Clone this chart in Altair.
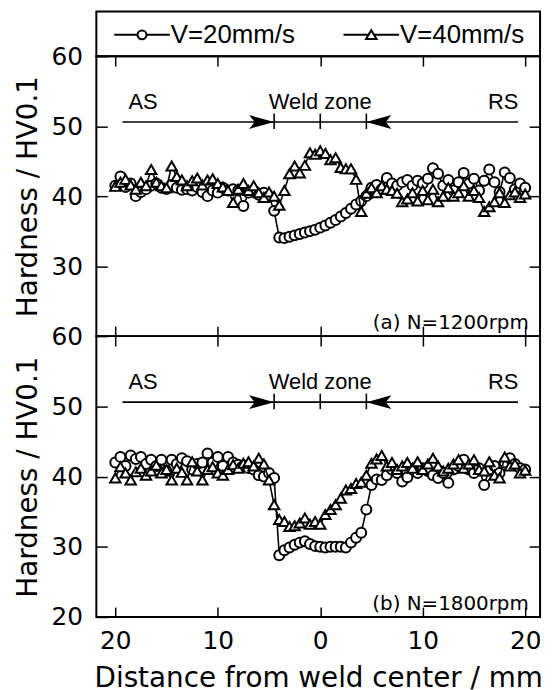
import altair as alt
import pandas as pd

# ---------------- data ----------------
distance = [-20.0, -19.5, -19.0, -18.5, -18.0, -17.5, -17.0, -16.5, -16.0, -15.5,
            -15.0, -14.5, -14.0, -13.5, -13.0, -12.5, -12.0, -11.5, -11.0, -10.5,
            -10.0, -9.5, -9.0, -8.5, -8.0, -7.5, -7.0, -6.5, -6.0, -5.5,
            -5.0, -4.5, -4.0, -3.5, -3.0, -2.5, -2.0, -1.5, -1.0, -0.5,
            0.0, 0.5, 1.0, 1.5, 2.0, 2.5, 3.0, 3.5, 4.0, 4.5,
            5.0, 5.5, 6.0, 6.5, 7.0, 7.5, 8.0, 8.5, 9.0, 9.5,
            10.0, 10.5, 11.0, 11.5, 12.0, 12.5, 13.0, 13.5, 14.0, 14.5,
            15.0, 15.5, 16.0, 16.5, 17.0, 17.5, 18.0, 18.5, 19.0, 19.5, 20.0]

# (a) N=1200rpm
a_v20 = [41.5, 42.8, 41.3, 41.8, 40.0, 40.6, 41.0, 41.5, 41.8, 41.2,
         41.0, 41.6, 41.2, 40.9, 41.0, 40.8, 41.3, 40.6, 40.0, 40.8,
         40.5, 41.2, 40.8, 41.0, 40.8, 38.6, 40.5, 40.8, 40.2, 40.5,
         40.0, 37.9, 34.1, 34.0, 34.2, 34.4, 34.6, 34.8, 35.0, 35.2,
         35.5, 35.8, 36.2, 36.6, 37.1, 37.6, 38.2, 38.8, 39.3, 40.0,
         41.2, 41.6, 41.0, 42.6, 41.8, 41.5, 42.0, 42.3, 41.5, 42.2,
         41.8, 42.5, 44.0, 43.2, 41.5, 42.3, 40.8, 42.0, 43.3, 41.8,
         42.5, 40.8, 42.2, 43.8, 42.0, 40.6, 43.4, 42.6, 41.0, 41.8, 41.2]
a_v40 = [41.4, 42.0, 42.4, 41.6, 41.0, 42.0, 41.5, 43.8, 42.0, 41.5,
         41.2, 44.3, 42.8, 42.3, 41.5, 42.2, 42.6, 41.6, 42.3, 42.5,
         41.8, 41.3, 40.8, 39.1, 41.0, 41.8, 40.8, 41.5, 40.5, 39.8,
         40.6, 40.0, 38.7, 40.8, 43.2, 44.3, 43.3, 44.4, 46.2, 46.0,
         46.5, 46.1, 45.2, 45.5, 44.1, 43.9, 43.9, 42.4, 37.8, 40.4,
         41.2, 40.5, 41.5, 41.0, 40.8, 40.4, 39.2, 39.6, 40.5, 39.3,
         40.8, 39.5, 41.0, 39.2, 40.0, 41.2, 40.0, 40.5, 41.5, 40.0,
         40.8, 39.8, 37.8, 38.5, 39.2, 40.5, 39.1, 40.2, 40.6, 39.8, 40.3]

# (b) N=1800rpm
b_v20 = [42.0, 42.8, 41.5, 43.0, 42.5, 42.8, 41.8, 42.4, 41.5, 42.4,
         40.8, 42.4, 41.8, 42.6, 42.2, 41.0, 41.8, 42.0, 43.3, 42.0,
         42.8, 41.5, 42.8, 42.0, 41.7, 41.5, 41.2, 41.0, 40.2, 40.0,
         40.5, 39.8, 28.8, 29.5, 29.9, 30.3, 30.6, 30.8, 30.4, 30.1,
         30.0, 29.9, 30.0, 30.0, 30.0, 29.9, 30.6, 31.3, 32.0, 35.3,
         38.8, 39.6, 39.5, 40.2, 41.0, 40.5, 39.3, 39.9, 41.0, 40.5,
         41.2, 40.8, 40.2, 39.8, 40.5, 39.1, 41.0, 41.5, 42.4, 41.0,
         40.5, 41.2, 38.8, 41.0, 41.5, 40.5, 42.0, 42.6, 41.8, 41.2, 41.0]
b_v40 = [39.8, 41.4, 40.5, 39.5, 40.7, 41.2, 40.2, 40.8, 41.6, 40.5,
         41.0, 39.5, 41.2, 40.6, 39.5, 42.1, 40.8, 39.5, 41.0, 41.4,
         40.5, 40.2, 41.0, 41.7, 41.2, 41.9, 42.1, 41.5, 42.6, 41.8,
         39.5, 36.0, 33.9, 33.6, 32.9, 33.0, 33.4, 34.1, 33.2, 33.6,
         33.2, 34.6, 35.3, 36.0, 36.9, 38.1, 38.3, 39.0, 39.2, 40.2,
         41.9, 42.5, 43.0, 41.5, 42.0, 41.0, 41.5, 42.0, 41.2, 42.1,
         41.0, 41.8, 42.6, 41.5, 40.8, 41.2, 41.8, 42.4, 41.2, 41.8,
         42.4, 41.0, 40.8, 42.1, 40.2, 39.8, 42.8, 41.5, 41.8, 40.5, 40.9]

series_names = ["V=20mm/s", "V=40mm/s"]
panel_labels = ["(a) N=1200rpm", "(b) N=1800rpm"]
x_ticks = [-20, -10, 0, 10, 20]

# annotation (data coordinates)
zone_labels = ["AS", "Weld zone", "RS"]
zone_label_x = [-17.3, 0.0, 17.85]
zone_label_y = 52.5
arrow_line_x = [-19.3, 19.3]
arrow_y = 50.6
zone_edges = [-4.5, 0.0, 4.5]
zone_tick_y = [49.6, 51.8]
arrow_tips = [-4.5, 4.5]
panel_label_x = 20.35
panel_label_y = 21.0

# ---------------- styling ----------------
W, HL = 447, 45
H_TOP, H_BOT = 282, 283
X_DOMAIN = [-21.85, 21.45]
Y_DOMAIN = [20, 60]
AX_FONT = "DejaVu Sans"
TXT_FONT = "Liberation Sans"

# legend symbols: unit = 10 px (symbolSize 400), drawn over 56 px to the right
LEG_CIRCLE = "M-1,0L1.35,0M2.25,0L4.6,0M2.25,0A0.45,0.45,0,1,1,1.35,0A0.45,0.45,0,1,1,2.25,0Z"
LEG_TRI = "M-1,0L1.52,0M2.08,0L4.6,0M1.8,-0.47L2.33,0.42L1.27,0.42Z"
ARROW_R = "M0,0L-3.6,-1L-2.8,0L-3.6,1Z"
ARROW_L = "M0,0L3.6,-1L2.8,0L3.6,1Z"

xscale = alt.Scale(domain=X_DOMAIN, nice=False, zero=False)
yscale = alt.Scale(domain=Y_DOMAIN, nice=False, zero=False)
LABEL_ABS = "format(abs(datum.value), 'd')"


def make_panel(v20, v40, label, y_label_values, show_x_labels, height):
    df = pd.DataFrame({
        "distance": distance + distance,
        "hardness": v20 + v40,
        "series": [series_names[0]] * len(distance) + [series_names[1]] * len(distance),
    })
    base = alt.Chart(df)

    if show_x_labels:
        x_axis = alt.Axis(orient="bottom", values=x_ticks, offset=-10, tickSize=10,
                          labelPadding=12, labelExpr=LABEL_ABS,
                          title="Distance from weld center / mm", titlePadding=11)
    else:
        x_axis = alt.Axis(orient="bottom", values=x_ticks, offset=-10, tickSize=10,
                          labels=False, title=None)
    y_axis = alt.Axis(orient="left", values=y_label_values, offset=-11, tickSize=11,
                      labelPadding=14, title="Hardness / HV0.1", titlePadding=8)

    x_none = alt.X("distance:Q", scale=xscale, axis=None)
    y_none = alt.Y("hardness:Q", scale=yscale, axis=None)

    line20 = base.transform_filter(alt.datum.series == series_names[0]).mark_line(
        color="black", strokeWidth=1.6).encode(
        x=alt.X("distance:Q", scale=xscale, axis=x_axis),
        y=alt.Y("hardness:Q", scale=yscale, axis=y_axis),
        order="distance:Q")
    pts20 = base.transform_filter(alt.datum.series == series_names[0]).mark_point(
        shape="circle", filled=True, fill="white", stroke="black", strokeWidth=2,
        size=100, opacity=1).encode(x=x_none, y=y_none)
    line40 = base.transform_filter(alt.datum.series == series_names[1]).mark_line(
        color="black", strokeWidth=1.6).encode(x=x_none, y=y_none, order="distance:Q")
    pts40 = base.transform_filter(alt.datum.series == series_names[1]).mark_point(
        shape="triangle-up", filled=True, fill="white", stroke="black", strokeWidth=2,
        size=110, opacity=1).encode(x=x_none, y=y_none)

    # weld zone annotation
    line_df = pd.DataFrame({"x": [arrow_line_x[0]], "x2": [arrow_line_x[1]], "y": [arrow_y]})
    hline = alt.Chart(line_df).mark_rule(color="black", strokeWidth=1.6).encode(
        x=alt.X("x:Q", scale=xscale, axis=None), x2="x2:Q",
        y=alt.Y("y:Q", scale=yscale, axis=None))
    tick_df = pd.DataFrame({"x": zone_edges, "y": [zone_tick_y[0]] * 3, "y2": [zone_tick_y[1]] * 3})
    zticks = alt.Chart(tick_df).mark_rule(color="black", strokeWidth=1.6).encode(
        x=alt.X("x:Q", scale=xscale, axis=None),
        y=alt.Y("y:Q", scale=yscale, axis=None), y2="y2:Q")
    arr_r = alt.Chart(pd.DataFrame({"x": [arrow_tips[0]], "y": [arrow_y]})).mark_point(
        shape=ARROW_R, filled=True, color="black", size=196, opacity=1).encode(
        x=alt.X("x:Q", scale=xscale, axis=None), y=alt.Y("y:Q", scale=yscale, axis=None))
    arr_l = alt.Chart(pd.DataFrame({"x": [arrow_tips[1]], "y": [arrow_y]})).mark_point(
        shape=ARROW_L, filled=True, color="black", size=196, opacity=1).encode(
        x=alt.X("x:Q", scale=xscale, axis=None), y=alt.Y("y:Q", scale=yscale, axis=None))
    ztext_df = pd.DataFrame({"x": zone_label_x, "y": [zone_label_y] * 3, "t": zone_labels})
    ztext = alt.Chart(ztext_df).mark_text(
        font=TXT_FONT, fontSize=22, color="black", baseline="alphabetic", align="center").encode(
        x=alt.X("x:Q", scale=xscale, axis=None), y=alt.Y("y:Q", scale=yscale, axis=None),
        text="t:N")

    # panel label, also carries the top / right tick axes
    ptext_df = pd.DataFrame({"x": [panel_label_x], "y": [panel_label_y], "t": [label]})
    ptext = alt.Chart(ptext_df).mark_text(
        font=AX_FONT, fontSize=20, color="black", baseline="alphabetic", align="right").encode(
        x=alt.X("x:Q", scale=xscale,
                axis=alt.Axis(orient="top", values=x_ticks, offset=-10, tickSize=10,
                              labels=False, title=None)),
        y=alt.Y("y:Q", scale=yscale,
                axis=alt.Axis(orient="right", values=[30, 40, 50], offset=-11, tickSize=11,
                              labels=False, title=None)),
        text="t:N")

    return alt.layer(line20, pts20, line40, pts40, hline, zticks, arr_r, arr_l, ztext, ptext
                     ).resolve_axis(x="independent", y="independent").properties(
        width=W, height=height)


legend_df = pd.DataFrame({"series": series_names, "lx": [0.0, 0.0], "ly": [0.5, 0.5]})
legend_panel = alt.Chart(legend_df).mark_point(opacity=0).encode(
    x=alt.X("lx:Q", scale=xscale, axis=None),
    y=alt.Y("ly:Q", scale=alt.Scale(domain=[0, 1]), axis=None),
    shape=alt.Shape("series:N",
                    scale=alt.Scale(domain=series_names, range=[LEG_CIRCLE, LEG_TRI]),
                    legend=alt.Legend(title=None, orient="none", legendX=15, legendY=10.5,
                                      direction="horizontal", columns=2,
                                      symbolSize=400, symbolStrokeWidth=2,
                                      symbolStrokeColor="black", symbolFillColor="white",
                                      symbolOpacity=1, labelFont=TXT_FONT, labelFontSize=26,
                                      labelColor="black", labelOffset=34, columnPadding=45,
                                      labelLimit=300, padding=0))
).properties(width=W, height=HL)

top = make_panel(a_v20, a_v40, panel_labels[0], [30, 40, 50, 60], False, H_TOP)
bottom = make_panel(b_v20, b_v40, panel_labels[1], [20, 30, 40, 50, 60], True, H_BOT)

chart = alt.vconcat(legend_panel, top, bottom, spacing=0, bounds="flush").resolve_scale(
    shape="independent").resolve_legend(shape="independent").properties(
    padding={"left": 6, "top": 0, "right": 2, "bottom": 0}
).configure_view(stroke="black", strokeWidth=2).configure_axis(
    domain=False, grid=False, tickColor="black", tickWidth=1.5,
    labelColor="black", titleColor="black", labelFont=AX_FONT, titleFont=AX_FONT,
    labelFontSize=25, titleFontSize=28, titleFontWeight="normal",
    labelFlush=False, labelOverlap=False)

chart.save("out.html", embed_options={"renderer": "svg", "actions": False})
